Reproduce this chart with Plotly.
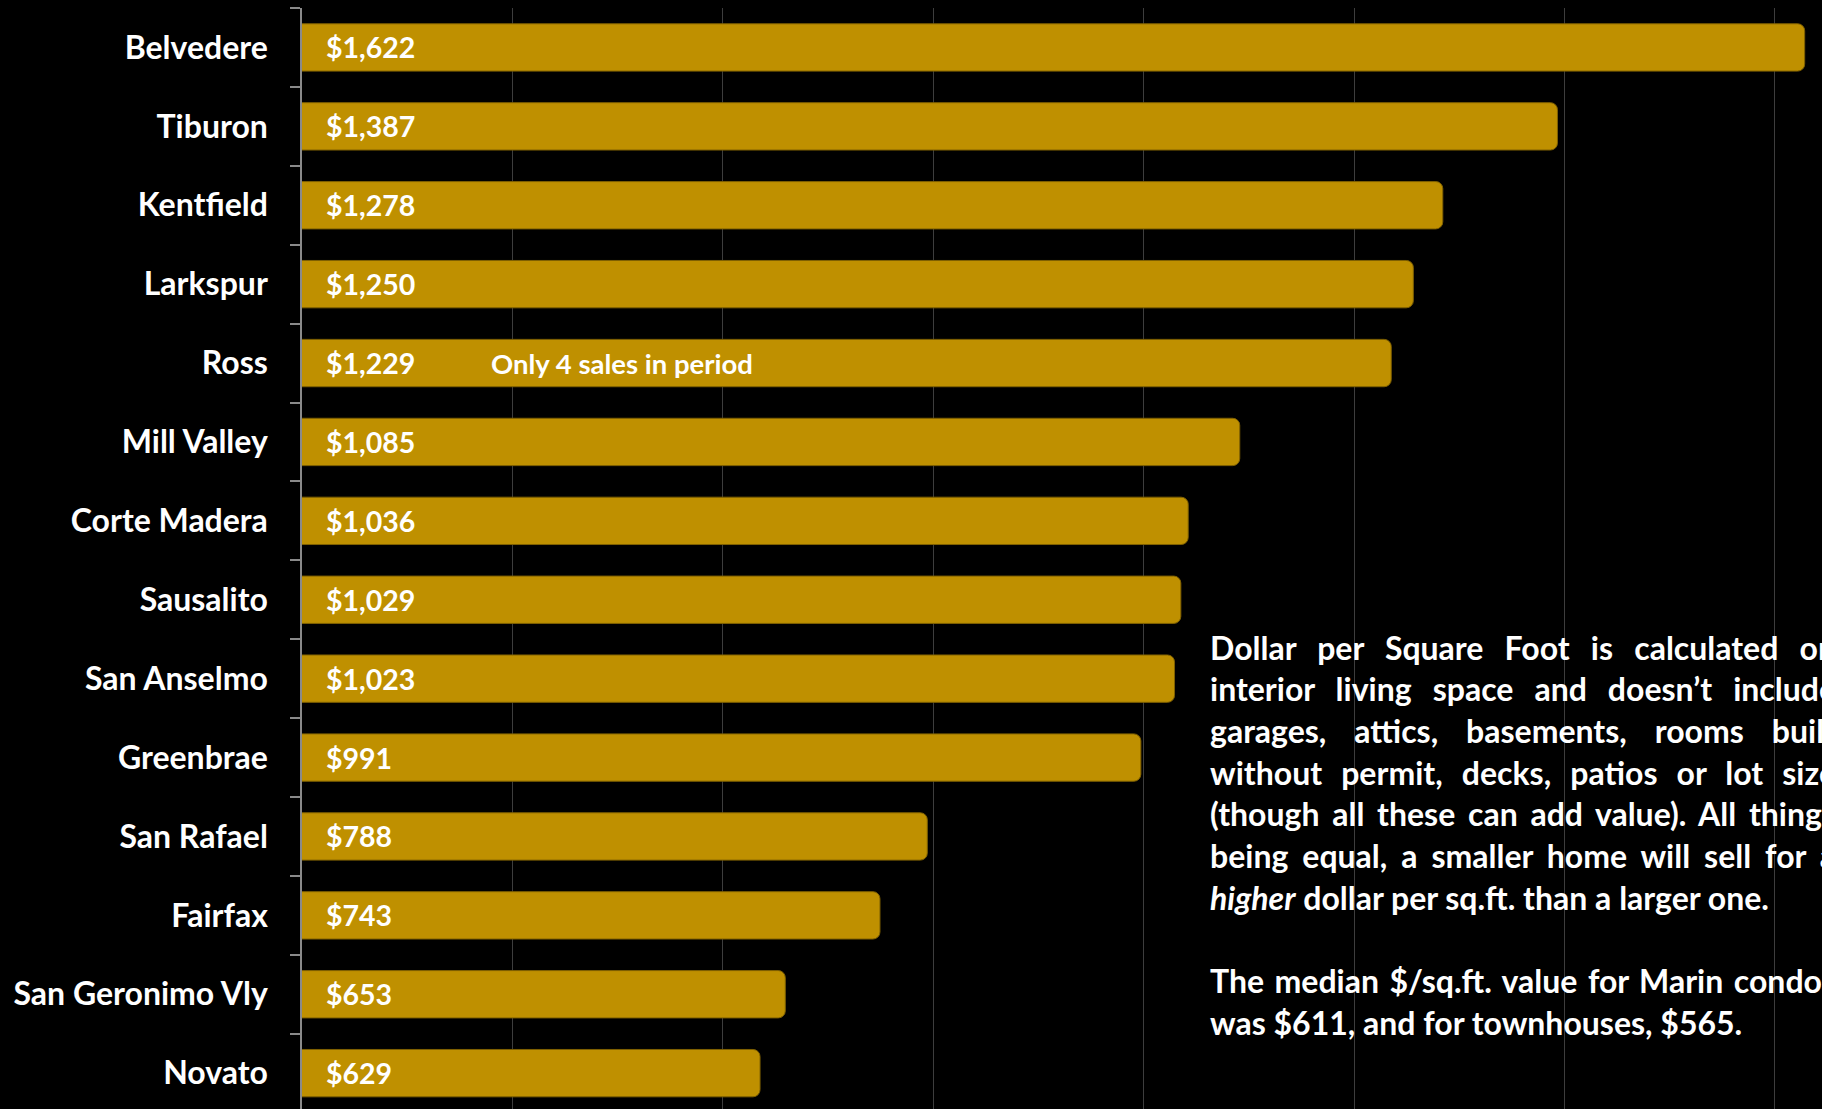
import plotly.graph_objects as go

# Median dollar per square foot, Marin County towns
towns = ["Belvedere", "Tiburon", "Kentfield", "Larkspur", "Ross", "Mill Valley",
         "Corte Madera", "Sausalito", "San Anselmo", "Greenbrae", "San Rafael",
         "Fairfax", "San Geronimo Vly", "Novato"]
price_per_sqft = [1622, 1387, 1278, 1250, 1229, 1085, 1036, 1029, 1023, 991,
                  788, 743, 653, 629]

note_town = "Ross"
note_text = "Only 4 sales in period"

paragraph_lines = [
    "Dollar per Square Foot is calculated on",
    "interior living space and doesn\u2019t include",
    "garages, attics, basements, rooms built",
    "without permit, decks, patios or lot size",
    "(though all these can add value). All things",
    "being equal, a smaller home will sell for a",
    "<i>higher</i> dollar per sq.ft. than a larger one.",
    "",
    "The median $/sq.ft. value for Marin condos",
    "was $611, and for townhouses, $565.",
]
justified = [0, 1, 2, 3, 4, 5, 8]

W, H = 1822, 1109
M_L, M_T = 302, 8
plot_w = W - M_L
plot_h = H - M_T
row_px = 78.9
px_per_unit = 1.052
x_min = 193.6
x_max = x_min + plot_w / px_per_unit

GOLD = "#BF9000"
FONT = "Lato"

fig = go.Figure(go.Bar(
    x=price_per_sqft, y=towns, orientation="h",
    marker=dict(color=GOLD, line=dict(color="#7F6000", width=1)),
    width=0.6, hoverinfo="skip",
))

annotations = []
for town, v in zip(towns, price_per_sqft):
    annotations.append(dict(
        x=0, xref="paper", y=town, yref="y", xshift=22,
        xanchor="left", yanchor="middle", showarrow=False,
        text=f"${v:,}", font=dict(family=FONT, size=28.5, color="white", weight="bold"),
    ))

annotations.append(dict(
    x=(489 - M_L) / plot_w, xref="paper", y=note_town, yref="y",
    xanchor="left", yanchor="middle", showarrow=False, text=note_text,
    font=dict(family=FONT, size=27.5, color="white", weight="bold"),
))

para_start = len(annotations)
line_top = 647.0
line_gap = 41.7
for i, line in enumerate(paragraph_lines):
    if not line:
        continue
    ypx = line_top + i * line_gap
    annotations.append(dict(
        x=(1208 - M_L) / plot_w, xref="paper", y=(H - ypx) / plot_h, yref="paper",
        xanchor="left", yanchor="middle", align="left", showarrow=False, text=line,
        font=dict(family=FONT, size=32, color="white", weight="bold"),
    ))

# map paragraph line numbers to annotation indices for justification
idx = para_start
line_index = {}
for i, line in enumerate(paragraph_lines):
    if line:
        line_index[i] = idx
        idx += 1
justify_idx = [line_index[i] for i in justified]

fig.update_layout(
    width=W, height=H,
    margin=dict(l=M_L, r=0, t=M_T, b=0),
    paper_bgcolor="black", plot_bgcolor="black",
    showlegend=False, barcornerradius=7,
    annotations=annotations,
    xaxis=dict(range=[x_min, x_max], showticklabels=False, tick0=x_min, dtick=200,
               showgrid=True, gridcolor="#3d3d3d", gridwidth=1.3, zeroline=False,
               showline=False),
    yaxis=dict(range=[-0.5 + plot_h / row_px, -0.5], showgrid=False,
               showline=True, linecolor="#8a8a8a", linewidth=1.5,
               ticks="outside", tickson="boundaries", ticklen=10, tickcolor="#8a8a8a",
               tickwidth=1.5, ticklabelstandoff=26,
               tickfont=dict(family=FONT, size=32, color="white", weight="bold")),
)

target_right = 1834 - 1208
post = """
var gd = document.getElementById('{plot_id}');
var ids = IDS;
ids.forEach(function(i){
  var t = gd.querySelector('.annotation[data-index="' + i + '"] text.annotation-text');
  if (!t) return;
  var n = (t.textContent.match(/ /g) || []).length;
  if (!n) return;
  var w = t.getComputedTextLength();
  var extra = (TARGET - w) / n;
  if (extra > 0) t.style.wordSpacing = extra + 'px';
});
""".replace("IDS", str(justify_idx)).replace("TARGET", str(target_right))

fig.write_html("out.html", post_script=post)
